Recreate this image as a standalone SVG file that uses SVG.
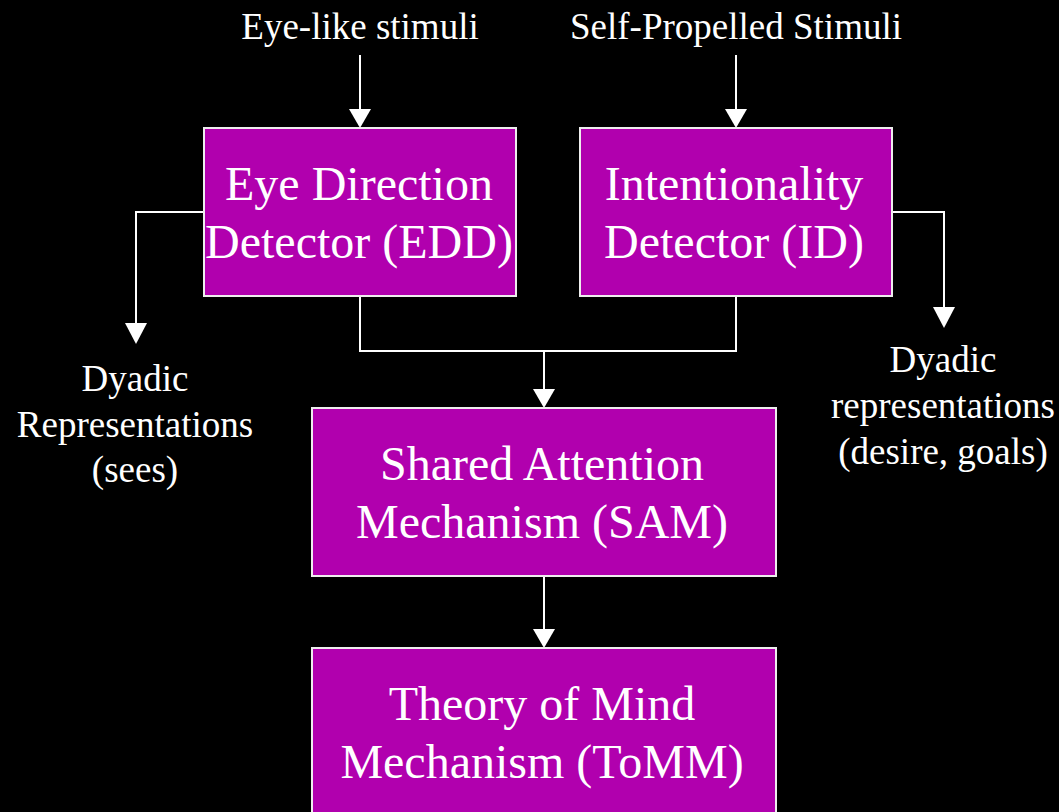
<svg xmlns="http://www.w3.org/2000/svg" width="1059" height="812" viewBox="0 0 1059 812">
<defs>
<style>
.box{fill:#B100AE;stroke:#EEEEEE;stroke-width:2}
.bt{font-family:"Liberation Serif","Times New Roman",serif;font-size:48px;fill:#FFFFFF;text-anchor:middle}
.lt{font-family:"Liberation Serif","Times New Roman",serif;font-size:37px;fill:#FFFFFF;text-anchor:middle}
.c{fill:none;stroke:#FFFFFF;stroke-width:2}
.ah{fill:#FFFFFF}
</style>
</defs>
<rect width="1059" height="812" fill="#000000"/>
<g id="connectors">
<path class="c" d="M360,55 V110" />
<path class="ah" d="M349,109 L371,109 L360,128 Z"/>
<path class="c" d="M736,55 V110" />
<path class="ah" d="M725,109 L747,109 L736,128 Z"/>
<path class="c" d="M204,212 H136 V324" />
<path class="ah" d="M125,323 L147,323 L136,344 Z"/>
<path class="c" d="M892,212 H944 V308" />
<path class="ah" d="M933,307 L955,307 L944,328 Z"/>
<path class="c" d="M360,296 V351 H736 V296" />
<path class="c" d="M544,351 V390" />
<path class="ah" d="M533,389 L555,389 L544,408 Z"/>
<path class="c" d="M544,576 V630" />
<path class="ah" d="M533,629 L555,629 L544,648 Z"/>
</g>
<g id="label-eye">
<text class="lt" x="360" y="39">Eye-like stimuli</text>
</g>
<g id="label-self">
<text class="lt" x="736" y="39">Self-Propelled Stimuli</text>
</g>
<g id="edd">
<rect class="box" x="204" y="128" width="312" height="168"/>
<text class="bt" x="359" y="200">Eye Direction</text>
<text class="bt" x="359" y="258">Detector (EDD)</text>
</g>
<g id="id">
<rect class="box" x="580" y="128" width="312" height="168"/>
<text class="bt" x="734" y="200">Intentionality</text>
<text class="bt" x="734" y="258">Detector (ID)</text>
</g>
<g id="sam">
<rect class="box" x="312" y="408" width="464" height="168"/>
<text class="bt" x="542" y="480">Shared Attention</text>
<text class="bt" x="542" y="538">Mechanism (SAM)</text>
</g>
<g id="tomm">
<rect class="box" x="312" y="648" width="464" height="168"/>
<text class="bt" x="542" y="720">Theory of Mind</text>
<text class="bt" x="542" y="778">Mechanism (ToMM)</text>
</g>
<g id="label-dyadic-left">
<text class="lt" x="135" y="391">Dyadic</text>
<text class="lt" x="135" y="437">Representations</text>
<text class="lt" x="135" y="482">(sees)</text>
</g>
<g id="label-dyadic-right">
<text class="lt" x="943" y="372">Dyadic</text>
<text class="lt" x="943" y="418">representations</text>
<text class="lt" x="943" y="464">(desire, goals)</text>
</g>
</svg>
